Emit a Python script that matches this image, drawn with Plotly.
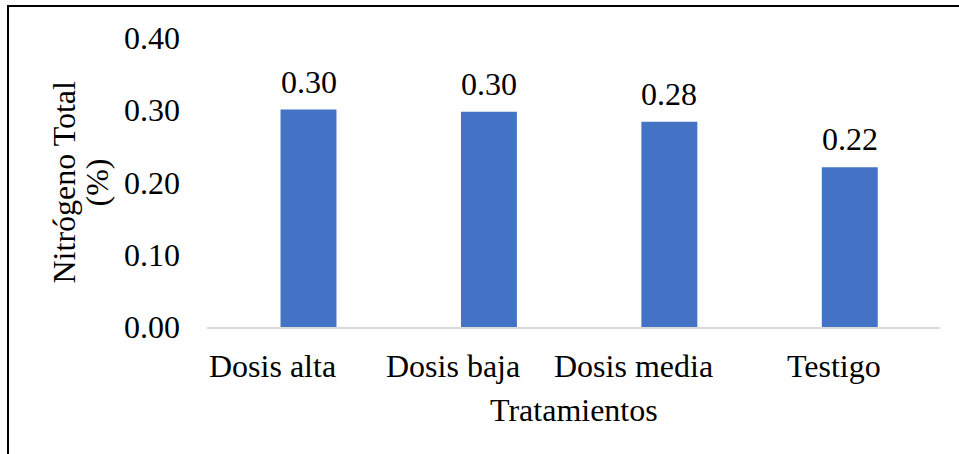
import plotly.graph_objects as go

categories = ["Dosis alta", "Dosis baja", "Dosis media", "Testigo"]
values = [0.301, 0.298, 0.284, 0.221]
y_ticks = [0.0, 0.1, 0.2, 0.3, 0.4]
y_tick_labels = ["0.00", "0.10", "0.20", "0.30", "0.40"]

# style: horizontal offsets (px) of category labels relative to bar centres, as in the reference
label_xshift = [-36, -36, -36, -16]

W, H = 959, 454
L, R, T, B = 207, 19, 38, 127
pw = W - L - R
ph = H - T - B

FONT = "Liberation Serif"
FS = 32
fnt = dict(family=FONT, size=FS, color="black")

fig = go.Figure(go.Bar(
    x=categories, y=values,
    marker=dict(color="#4472C4", line=dict(width=0)),
    width=0.31,
    cliponaxis=False,
))

annotations = [dict(
    x=c, y=v, xref="x", yref="y", text=f"{v:.2f}",
    showarrow=False, yanchor="bottom", xanchor="center", yshift=8, font=fnt,
) for c, v in zip(categories, values)]

annotations += [dict(
    x=c, y=0, xref="x", yref="y", text=c,
    showarrow=False, yanchor="middle", xanchor="center",
    yshift=-39, xshift=dx, font=fnt,
) for c, dx in zip(categories, label_xshift)]

annotations.append(dict(
    text="Nitrógeno Total", textangle=-90,
    xref="paper", yref="paper",
    x=(63 - L) / pw, y=0.5, xanchor="center", yanchor="middle",
    showarrow=False, font=fnt,
))
annotations.append(dict(
    text="(%)", textangle=-90,
    xref="paper", yref="paper",
    x=(96 - L) / pw, y=0.5, xanchor="center", yanchor="middle",
    showarrow=False, font=fnt,
))

fig.update_layout(
    width=W, height=H,
    margin=dict(l=L, r=R, t=T, b=B),
    paper_bgcolor="white", plot_bgcolor="white",
    font=fnt,
    showlegend=False,
    xaxis=dict(
        showline=True, linecolor="#D9D9D9", linewidth=2,
        showgrid=False, ticks="", showticklabels=False,
    ),
    yaxis=dict(
        range=[0, 0.4], tickvals=y_ticks, ticktext=y_tick_labels,
        showline=False, showgrid=False, zeroline=False, ticks="",
        ticklabelstandoff=26, tickfont=fnt,
    ),
    annotations=annotations + [dict(
        text="Tratamientos", xref="paper", yref="paper",
        x=(574 - L) / pw, y=(H - B - 410) / ph,
        xanchor="center", yanchor="middle", showarrow=False, font=fnt,
    )],
    shapes=[dict(
        type="rect", xref="paper", yref="paper",
        x0=(8 - L) / pw, x1=(965 - L) / pw,
        y0=(H - B - 6) / ph, y1=(H - B - 462) / ph,
        line=dict(color="black", width=2), fillcolor="rgba(0,0,0,0)",
    )],
)

fig.write_html("out.html", config={"displayModeBar": False},
               post_script="document.body.style.margin='0px';")
